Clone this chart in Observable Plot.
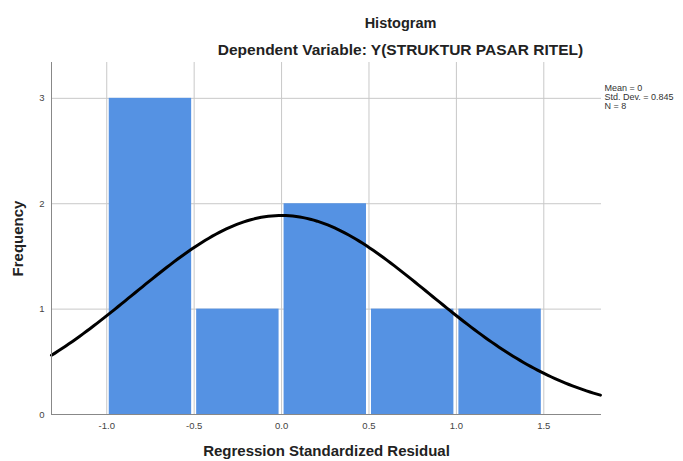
<!DOCTYPE html>
<html>
<head>
<meta charset="utf-8">
<script src="https://cdn.jsdelivr.net/npm/d3@7"></script>
<script src="https://cdn.jsdelivr.net/npm/@observablehq/plot@0.6"></script>
<style>
  html, body { margin: 0; padding: 0; background: #fff; }
  svg { display: block; }
</style>
</head>
<body>
<div id="chart"></div>
<script>
// Histogram bins (Regression Standardized Residual)
const binStart = [-1.0, -0.5, 0.0, 0.5, 1.0];
const binEnd   = [-0.5,  0.0, 0.5, 1.0, 1.5];
const counts   = [3, 1, 2, 1, 1];

// Stated statistics (legend)
const meanVal = 0;
const stdDev = 0.845;
const nObs = 8;
const binWidth = 0.5;

const xTicks = [-1.0, -0.5, 0.0, 0.5, 1.0, 1.5];
const yTicks = [0, 1, 2, 3];
const legendLines = ["Mean = 0", "Std. Dev. = 0.845", "N = 8"];

const xDomain = [-1.316, 1.83];
const yDomain = [0, 3.34];

const bars = binStart.map((s, i) => ({x1: s, x2: binEnd[i], y: counts[i]}));

// Normal curve scaled to histogram counts, from the stated mean / sd / N
const curveXs = d3.range(xDomain[0], xDomain[1] + 0.0001, 0.02);
const curve = curveXs.map(x => ({
  x,
  y: nObs * binWidth * Math.exp(-0.5 * ((x - meanVal) / stdDev) ** 2) / (stdDev * Math.sqrt(2 * Math.PI))
}));

const font = "Liberation Sans, Arial, sans-serif";

const legendMarks = legendLines.map((t, i) =>
  Plot.text([t], {frameAnchor: "top-right", dx: 3, dy: 22 + i * 9, textAnchor: "start", fontSize: 9, fill: "#333"})
);

const plot = Plot.plot({
  width: 683,
  height: 461,
  marginLeft: 51,
  marginRight: 82,
  marginTop: 62,
  marginBottom: 47,
  style: {fontFamily: font, background: "#fff", overflow: "visible"},
  x: {domain: xDomain},
  y: {domain: yDomain},
  marks: [
    Plot.gridY(yTicks.filter(d => d > 0), {stroke: "#c8c8c8", strokeOpacity: 1, strokeWidth: 1}),
    Plot.gridX(xTicks, {stroke: "#c8c8c8", strokeOpacity: 1, strokeWidth: 1}),
    Plot.rect(bars, {x1: "x1", x2: "x2", y1: 0, y2: "y", fill: "#5592e3", insetLeft: 2.5, insetRight: 2.5}),
    Plot.line(curve, {x: "x", y: "y", stroke: "#000", strokeWidth: 3, curve: "linear"}),
    Plot.ruleX([xDomain[0]], {stroke: "#888", strokeWidth: 1}),
    Plot.ruleY([0], {stroke: "#888", strokeWidth: 1}),
    Plot.axisX({ticks: xTicks, tickFormat: d => d.toFixed(1), tickSize: 0, tickPadding: 8, fontSize: 9.5, fill: "#444", label: null}),
    Plot.axisY({ticks: yTicks, tickFormat: d => String(d), tickSize: 0, tickPadding: 7, fontSize: 9.5, fill: "#444", label: null}),
    // Axis titles
    Plot.text(["Regression Standardized Residual"], {frameAnchor: "bottom", dy: 41, fontSize: 15, fontWeight: "bold", fill: "#222"}),
    Plot.text(["Frequency"], {frameAnchor: "left", textAnchor: "middle", dx: -33, rotate: -90, fontSize: 15, fontWeight: "bold", fill: "#222"}),
    // Titles
    Plot.text(["Histogram"], {frameAnchor: "top", dx: 74, dy: -45, fontSize: 14.5, fontWeight: "bold", fill: "#222"}),
    Plot.text(["Dependent Variable: Y(STRUKTUR PASAR RITEL)"], {frameAnchor: "top", dx: 74, dy: -19, fontSize: 15.5, fontWeight: "bold", fill: "#222"}),
    ...legendMarks
  ]
});

document.getElementById("chart").appendChild(plot);
</script>
</body>
</html>
